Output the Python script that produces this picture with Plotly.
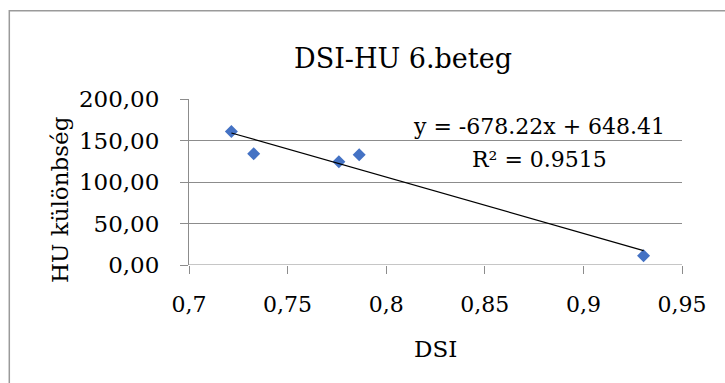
import plotly.graph_objects as go

# ---- data ----
dsi = [0.7215, 0.7328, 0.7760, 0.7863, 0.9305]
hu_diff = [160.9, 134.0, 124.3, 132.8, 11.2]
trend_slope = -678.22
trend_intercept = 648.41
r_squared = 0.9515

x_tick_vals = [0.7, 0.75, 0.8, 0.85, 0.9, 0.95]
x_tick_text = ["0,7", "0,75", "0,8", "0,85", "0,9", "0,95"]
y_tick_vals = [0, 50, 100, 150, 200]
y_tick_text = ["0,00", "50,00", "100,00", "150,00", "200,00"]

title_text = "DSI-HU 6.beteg"
x_title = "DSI"
y_title = "HU különbség"

# ---- layout geometry (pixels) ----
W, H = 725, 383
L, R, T, B = 189, 43, 99, 118
PW, PH = W - L - R, H - T - B

def px_x(px):
    return (px - L) / PW

def px_y(py):
    return (H - B - py) / PH

FONT = "'DejaVu Serif', 'Liberation Serif', serif"
GRID = "#8c8c8c"

trend_x = [min(dsi), max(dsi)]
trend_y = [trend_slope * v + trend_intercept for v in trend_x]

fig = go.Figure()
fig.add_trace(go.Scatter(
    x=dsi, y=hu_diff, mode="markers",
    marker=dict(symbol="diamond", size=10, color="#4472C4"),
    showlegend=False, cliponaxis=False,
))
fig.add_trace(go.Scatter(
    x=trend_x, y=trend_y, mode="lines",
    line=dict(color="black", width=1.2),
    showlegend=False,
))

fig.update_layout(
    width=W, height=H,
    margin=dict(l=L, r=R, t=T, b=B, pad=0),
    paper_bgcolor="white", plot_bgcolor="white",
    font=dict(family=FONT, color="black", size=22),
    xaxis=dict(
        range=[0.7, 0.95], tickvals=x_tick_vals, ticktext=x_tick_text,
        showgrid=False, zeroline=False,
        showline=False,
        ticks="outside", ticklen=8, tickcolor=GRID, tickwidth=1,
        ticklabelstandoff=12,
        tickfont=dict(size=22, family=FONT),
    ),
    yaxis=dict(
        range=[0, 200], tickvals=y_tick_vals, ticktext=y_tick_text,
        showgrid=True, gridcolor=GRID, gridwidth=1,
        zeroline=False,
        showline=True, linecolor=GRID, linewidth=1,
        ticks="outside", ticklen=8, tickcolor=GRID, tickwidth=1,
        ticklabelstandoff=16,
        tickfont=dict(size=23, family=FONT),
    ),
    shapes=[
        dict(type="rect", xref="paper", yref="paper",
             x0=px_x(9.3), x1=px_x(W + 20), y0=px_y(10.7), y1=px_y(H + 20),
             line=dict(color="#9a9a9a", width=1.5), fillcolor="rgba(0,0,0,0)",
             layer="below"),
        dict(type="line", xref="paper", yref="y",
             x0=0, x1=1, y0=0, y1=0,
             line=dict(color=GRID, width=1)),
    ],
    annotations=[
        dict(text=title_text, xref="paper", yref="paper",
             x=px_x(403), y=px_y(59), xanchor="center", yanchor="middle",
             showarrow=False, font=dict(size=27, family=FONT)),
        dict(text=x_title, xref="paper", yref="paper",
             x=px_x(435), y=px_y(349), xanchor="center", yanchor="middle",
             showarrow=False, font=dict(size=23, family=FONT)),
        dict(text=y_title, xref="paper", yref="paper",
             x=px_x(60), y=px_y(200), xanchor="center", yanchor="middle",
             textangle=-90, showarrow=False, font=dict(size=23, family=FONT)),
        dict(text=f"y = {trend_slope:.2f}x + {trend_intercept:.2f}",
             xref="paper", yref="paper",
             x=px_x(539), y=px_y(126), xanchor="center", yanchor="middle",
             showarrow=False, font=dict(size=22, family=FONT)),
        dict(text=f"R² = {r_squared:.4f}",
             xref="paper", yref="paper",
             x=px_x(539), y=px_y(159), xanchor="center", yanchor="middle",
             showarrow=False, font=dict(size=22, family=FONT)),
    ],
)

fig.write_html("out.html")
